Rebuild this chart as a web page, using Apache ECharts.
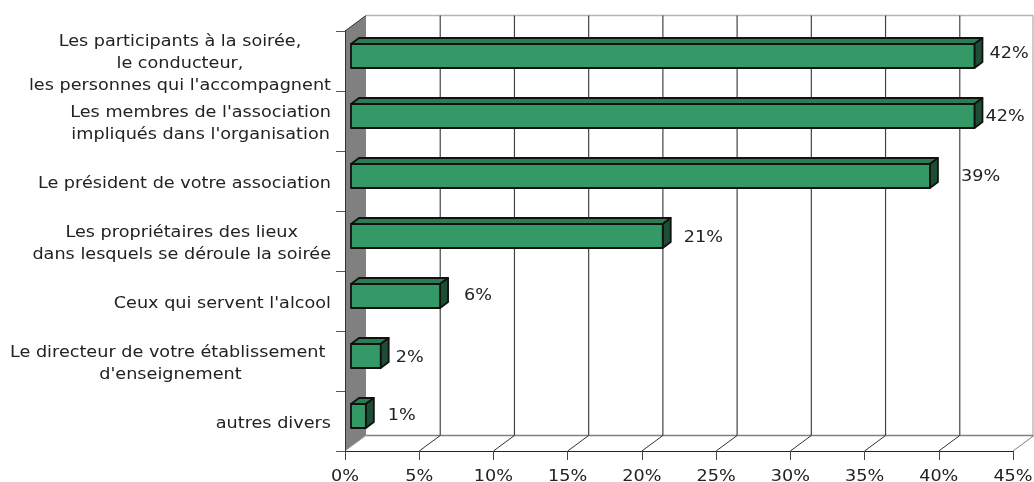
<!DOCTYPE html>
<html><head><meta charset="utf-8">
<style>html,body{margin:0;padding:0;background:#fff}#c{width:1034px;height:482px}</style>
<script src="https://cdn.jsdelivr.net/npm/echarts@6/dist/echarts.min.js"></script>
</head><body><div id="c"></div>
<script>
const categories = [
  "Les participants à la soirée,\nle conducteur,\nles personnes qui l'accompagnent",
  "Les membres de l'association\nimpliqués dans l'organisation",
  "Le président de votre association",
  "Les propriétaires des lieux\ndans lesquels se déroule la soirée",
  "Ceux qui servent l'alcool",
  "Le directeur de votre établissement \nd'enseignement",
  "autres divers"
];
const values = [42, 42, 39, 21, 6, 2, 1];
const xTicks = [0, 5, 10, 15, 20, 25, 30, 35, 40, 45];
const labelNudge = [[7, -2], [3, 1], [23, 1], [13, 2], [16, 0], [7, 2], [14, 0]];

const FONT = '"DejaVu Sans"';
const FS = 16.2;
const STRETCH = 1.09;
const WALL = [21, -15.5];
const BAR_NEAR = [6, -5];
const BAR_FAR = [14, -11];
const TEXT = '#222';

const chart = echarts.init(document.getElementById('c'), null, {renderer: 'canvas'});
chart.setOption({
  animation: false,
  backgroundColor: '#fff',
  grid: {left: 345, right: 21, top: 31, bottom: 31, containLabel: false, outerBoundsMode: 'none'},
  xAxis: {
    type: 'value', min: 0, max: 45, interval: 5, z: 6,
    splitLine: {show: false},
    axisLine: {show: true, onZero: false, lineStyle: {color: '#222', width: 1}},
    axisTick: {show: true, length: 9, lineStyle: {color: '#444', width: 1}},
    axisLabel: {show: false}
  },
  yAxis: {
    type: 'category', data: categories, inverse: true, z: 6,
    splitLine: {show: false},
    axisLine: {show: true, lineStyle: {color: '#333', width: 1}},
    axisTick: {show: true, length: 9, alignWithLabel: false, lineStyle: {color: '#555', width: 1}},
    axisLabel: {show: false}
  },
  series: [
    { // left wall and back-wall frame
      type: 'custom', coordinateSystem: 'cartesian2d', z: 1, silent: true,
      data: [[0, 0]], encode: {x: 0, y: 1},
      renderItem(params) {
        const g = params.coordSys;
        const l = g.x, r = g.x + g.width, t = g.y, b = g.y + g.height;
        const [dx, dy] = WALL;
        return {type: 'group', children: [
          {type: 'polygon', shape: {points: [[l, t], [l + dx, t + dy], [l + dx, b + dy], [l, b]]},
            style: {fill: '#808080', stroke: null}},
          {type: 'line', shape: {x1: l, y1: t, x2: l + dx, y2: t + dy}, style: {stroke: '#333', lineWidth: 1}},
          {type: 'line', shape: {x1: l + dx, y1: t + dy, x2: r + dx - 1, y2: t + dy}, style: {stroke: '#b4b4b4', lineWidth: 1.4}},
          {type: 'line', shape: {x1: r + dx - 1, y1: t + dy, x2: r + dx - 1, y2: b + dy}, style: {stroke: '#999', lineWidth: 1}},
          {type: 'line', shape: {x1: l + dx, y1: b + dy, x2: r + dx - 1, y2: b + dy}, style: {stroke: '#808080', lineWidth: 1.4}}
        ]};
      }
    },
    { // grid lines on the back wall and the floor, plus x tick labels
      type: 'custom', coordinateSystem: 'cartesian2d', z: 2, silent: true,
      data: xTicks.map(t => [t, 0]), encode: {x: 0, y: 1},
      renderItem(params, api) {
        const g = params.coordSys;
        const x = api.coord([api.value(0), 0])[0];
        const t = g.y, b = g.y + g.height;
        const [dx, dy] = WALL;
        const v = api.value(0);
        const kids = [
          {type: 'line', shape: {x1: x, y1: b, x2: x + dx, y2: b + dy},
            style: {stroke: v === 45 ? '#808080' : v === 0 ? '#aaa' : '#333', lineWidth: 1}},
          {type: 'text', x: x, y: b + 26, scaleX: STRETCH,
            style: {text: v + '%', fill: TEXT, font: FS + 'px ' + FONT, align: 'center', verticalAlign: 'middle'}}
        ];
        if (v > 0 && v < 45) kids.push({type: 'line', shape: {x1: x + dx, y1: t + dy, x2: x + dx, y2: b + dy},
          style: {stroke: '#444', lineWidth: 1.2}});
        return {type: 'group', children: kids};
      }
    },
    { // category labels
      type: 'custom', coordinateSystem: 'cartesian2d', z: 2, silent: true,
      data: categories.map((c, i) => [0, i]), encode: {x: 0, y: 1},
      renderItem(params, api) {
        const i = api.value(1);
        const p = api.coord([0, i]);
        return {type: 'text', x: p[0] - 14, y: p[1] + 3, scaleX: STRETCH,
          style: {
            text: categories[i].split('\n').map(s => '{c|' + s + '}').join('\n'),
            align: 'right', verticalAlign: 'middle',
            rich: {c: {align: 'center', lineHeight: 22, fontFamily: FONT, fontSize: FS, fill: TEXT}}
          }};
      }
    },
    { // 3D bars
      type: 'custom', coordinateSystem: 'cartesian2d', z: 3, silent: true,
      data: values.map((v, i) => [v, i]), encode: {x: 0, y: 1},
      renderItem(params, api) {
        const v = api.value(0), i = api.value(1);
        const end = api.coord([v, i]);
        const start = api.coord([0, i]);
        const h = api.size([0, 1])[1] * 0.4;
        const x0 = start[0] + BAR_NEAR[0], x1 = end[0] + BAR_NEAR[0];
        const y0 = end[1] + BAR_NEAR[1] - h / 2, y1 = y0 + h;
        const ox = BAR_FAR[0] - BAR_NEAR[0], oy = BAR_FAR[1] - BAR_NEAR[1];
        const line = {stroke: '#111', lineWidth: 1.8, lineJoin: 'round'};
        const n = labelNudge[i];
        return {type: 'group', children: [
          {type: 'polygon', shape: {points: [[x0, y0], [x0 + ox, y0 + oy], [x1 + ox, y0 + oy], [x1, y0]]},
            style: {fill: '#2a7d52', ...line}},
          {type: 'polygon', shape: {points: [[x1, y0], [x1 + ox, y0 + oy], [x1 + ox, y1 + oy], [x1, y1]]},
            style: {fill: '#1e4d36', ...line}},
          {type: 'rect', shape: {x: x0, y: y0, width: x1 - x0, height: h},
            style: {fill: '#339966', ...line}},
          {type: 'text', x: x1 + ox + n[0], y: (y0 + y1) / 2 + n[1], scaleX: STRETCH,
            style: {text: v + '%', fill: TEXT, font: FS + 'px ' + FONT, align: 'left', verticalAlign: 'middle'}}
        ]};
      }
    }
  ]
});
</script></body></html>
